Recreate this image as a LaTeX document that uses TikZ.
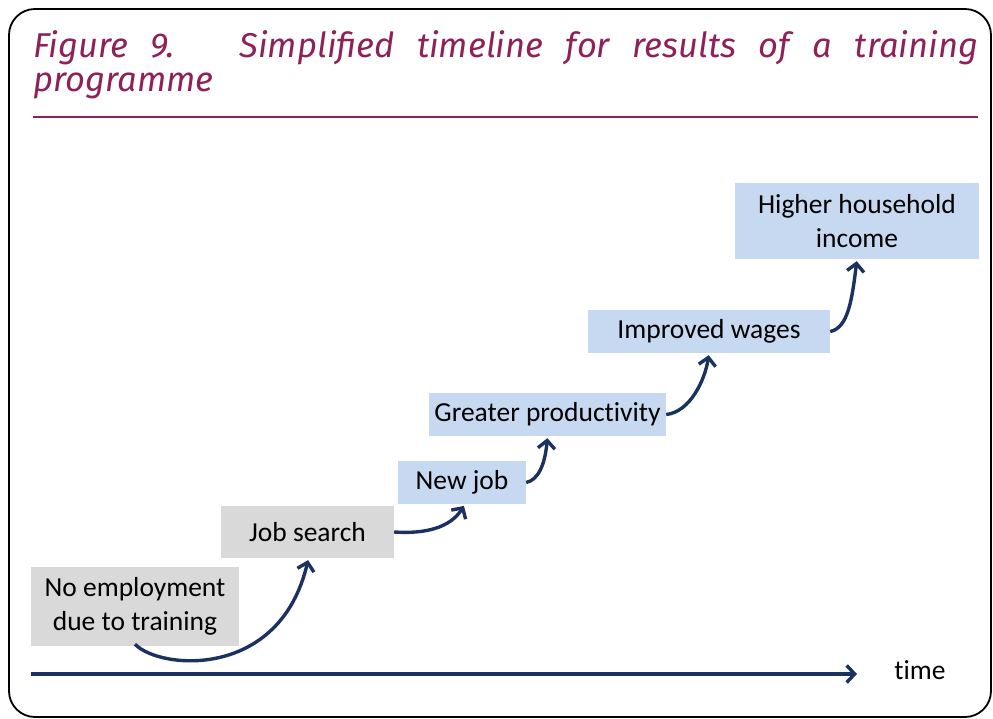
\documentclass[tikz,border=0pt]{standalone}
\usepackage{fontspec}
\setmainfont[RawFeature={-liga;-clig;-calt;-dlig}]{Carlito}
\newfontfamily\titlefont{Fira Sans}
\usetikzlibrary{arrows.meta}
\definecolor{titlepurple}{HTML}{8E2157}
\definecolor{navy}{HTML}{1B3260}
\definecolor{boxgray}{HTML}{D9D9D9}
\definecolor{boxblue}{HTML}{C6D9F1}
\tikzset{
  stepbox/.style={inner sep=0pt, align=center, font=\fontsize{27.5}{34}\selectfont, text=black},
  graybox/.style={stepbox, fill=boxgray},
  bluebox/.style={stepbox, fill=boxblue},
  flow/.style={draw=navy, line width=3.4pt, -{Straight Barb[length=8pt,width=17pt,line width=3.4pt]}, shorten >=2pt},
  titletext/.style={inner sep=0pt, anchor=base west, text=titlepurple, font=\titlefont\itshape\fontsize{34.5}{36}\selectfont}
}
\begin{document}
\begin{tikzpicture}[x=1pt,y=-1pt]
\useasboundingbox (0,0) rectangle (993,718);
\draw[line width=1.8pt, rounded corners=26pt] (9,9) rectangle (991,717);
\node[titletext] (t1) at (33,57) {\makebox[945pt][s]{Figure 9.\hspace{12pt} Simplified timeline for results of a training}};
\node[titletext] (t2) at (33,91) {programme};
\draw[titlepurple, line width=2.6pt] (33,117) -- (978,117);

\node[graybox, minimum width=208pt, minimum height=79pt] (nemp) at (135,606.5) {No employment\\due to training};
\node[graybox, minimum width=173pt, minimum height=52pt] (js) at (307.5,532) {Job search};
\node[bluebox, minimum width=128pt, minimum height=43pt] (nj) at (462,482.5) {New job};
\node[bluebox, minimum width=237pt, minimum height=43pt] (gp) at (547.5,414.5) {Greater productivity};
\node[bluebox, minimum width=242pt, minimum height=43pt] (iw) at (709,331.5) {Improved wages};
\node[bluebox, minimum width=244pt, minimum height=76pt] (hh) at (857,221) {Higher household\\income};

\draw[flow] ([yshift=2pt]nemp.south) .. controls (160,670) and (280,680) .. ([xshift=1pt]js.south);
\draw[flow] (js.east) .. controls (425,534) and (450,528) .. ([xshift=3pt]nj.south);
\draw[flow] (nj.east) .. controls (538,480) and (545,465) .. (gp.south);
\draw[flow] (gp.east) .. controls (690,412) and (705,380) .. (iw.south);
\draw[flow] (iw.east) .. controls (848,328) and (852,300) .. (hh.south);

\coordinate (tstart) at (31,674);
\node[inner sep=0pt, anchor=base, font=\fontsize{27.5}{30}\selectfont] (time) at (920,679) {time};
\draw[draw=navy, line width=3.4pt, -{Straight Barb[length=8pt,width=17pt,line width=3.4pt]}] (tstart) -- (857,674);
\end{tikzpicture}
\end{document}
